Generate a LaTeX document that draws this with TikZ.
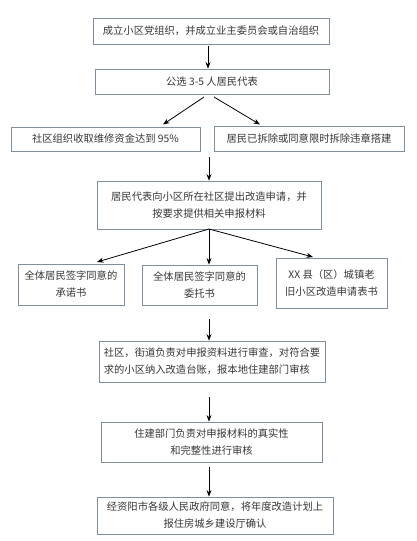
\documentclass[tikz,border=0pt]{standalone}
\usepackage{fontspec}
\setmainfont{Noto Sans CJK SC}
\usetikzlibrary{arrows.meta}
\definecolor{boxline}{RGB}{128,142,158}
\definecolor{txt}{RGB}{55,55,55}
\tikzset{
  fbox/.style={draw=boxline, line width=0.8pt, fill=white, inner sep=2pt,
    text=txt, font=\fontsize{10.3}{17}\selectfont, align=center},
  arr/.style={-{Stealth[length=6.5pt,width=5pt]}, line width=0.8pt, black},
}
\begin{document}
\begin{tikzpicture}[x=1pt,y=-1pt]
\useasboundingbox (0,0) rectangle (417,541);
\fill[white] (0,0) rectangle (417,541);

\node[fbox, minimum width=236pt, minimum height=26pt] (b1) at (211,31) {成立小区党组织，并成立业主委员会或自治组织};
\node[fbox, minimum width=234pt, minimum height=25pt] (b2) at (212,81.5) {公选 3-5 人居民代表};
\node[fbox, minimum width=189pt, minimum height=24pt] (b3l) at (105.5,139) {社区组织收取维修资金达到 95\%};
\node[fbox, minimum width=190pt, minimum height=25pt] (b3r) at (309,138.5) {居民已拆除或同意限时拆除违章搭建};
\node[fbox, minimum width=224pt, minimum height=48pt] (b4) at (209,205) {居民代表向小区所在社区提出改造申请，并\\按要求提供相关申报材料};
\node[fbox, minimum width=106pt, minimum height=41pt] (b5a) at (71,284.5) {全体居民签字同意的\\承诺书};
\node[fbox, minimum width=115pt, minimum height=40pt] (b5b) at (199.5,285) {全体居民签字同意的\\委托书};
\node[fbox, minimum width=111pt, minimum height=50pt] (b5c) at (331.5,283) {XX 县（区）城镇老\\旧小区改造申请表书};
\node[fbox, minimum width=226pt, minimum height=41pt, align=left] (b6) at (212,361.5) {社区，街道负责对申报资料进行审查，对符合要\\求的小区纳入改造台账，报本地住建部门审核};
\node[fbox, minimum width=221pt, minimum height=40pt] (b7) at (211.5,442) {住建部门负责对申报材料的真实性\\和完整性进行审核};
\node[fbox, minimum width=236pt, minimum height=37pt] (b8) at (215,515.5) {经资阳市各级人民政府同意，将年度改造计划上\\报住房城乡建设厅确认};

\coordinate (s1) at (208,46);
\coordinate (s2a) at (204,97);
\coordinate (s2b) at (214,97);
\coordinate (s3) at (209,157);
\coordinate (s4) at (209,229);
\coordinate (s5) at (209,319);
\coordinate (s6) at (209,397);
\coordinate (s7) at (209,467);

\draw[arr] (s1) -- (s1 |- b2.north);
\draw[arr] (s2a) -- (163,124.5) coordinate (e2a);
\draw[arr] (s2b) -- (260,124.5) coordinate (e2b);
\draw[arr] (s3) -- (s3 |- b4.north);
\draw[arr] (s4) -- (97,262) coordinate (e4a);
\draw[arr] (s4) -- (s4 |- b5b.north);
\draw[arr] (s4) -- (313,257) coordinate (e4c);
\draw[arr] (s5) -- (s5 |- b6.north);
\draw[arr] (s6) -- (s6 |- b7.north);
\draw[arr] (s7) -- (s7 |- b8.north);
\end{tikzpicture}
\end{document}
